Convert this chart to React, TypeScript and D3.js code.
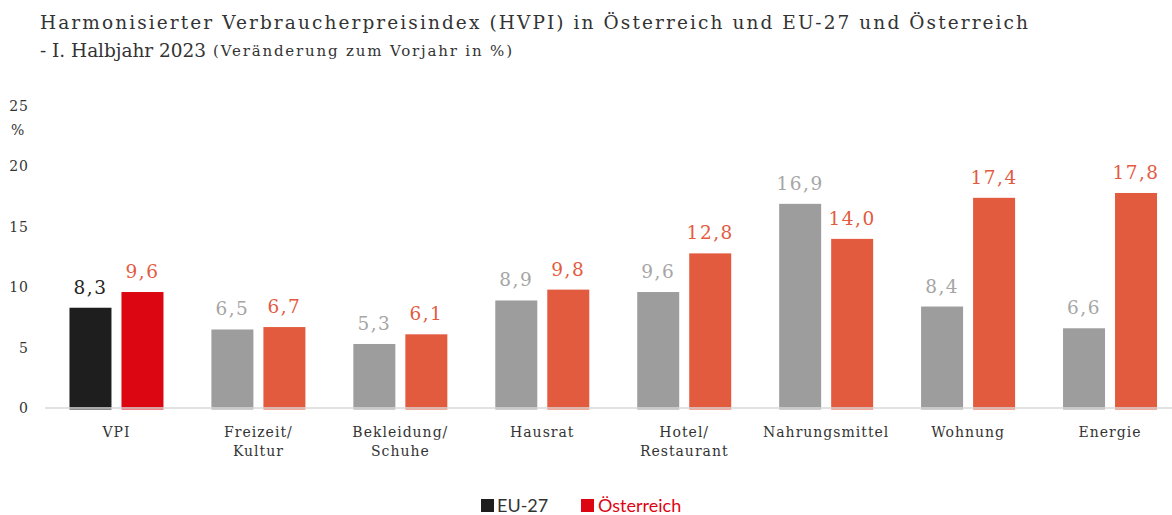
import React from "react";
import * as d3 from "d3";

const categories = [
  ["VPI"],
  ["Freizeit/", "Kultur"],
  ["Bekleidung/", "Schuhe"],
  ["Hausrat"],
  ["Hotel/", "Restaurant"],
  ["Nahrungsmittel"],
  ["Wohnung"],
  ["Energie"],
];
const series = ["EU-27", "Österreich"];
const euValues = [8.3, 6.5, 5.3, 8.9, 9.6, 16.9, 8.4, 6.6];
const atValues = [9.6, 6.7, 6.1, 9.8, 12.8, 14.0, 17.4, 17.8];
const yTicks = [0, 5, 10, 15, 20, 25];

const W = 1172;
const H = 515;
const SERIF = "'DejaVu Serif', serif";
const SANS = "Lato, 'Open Sans', sans-serif";

const fmt = (v: number) => v.toFixed(1).replace(".", ",");

export default function App() {
  const keys = categories.map((c) => c.join(" "));
  const x = d3.scaleBand<string>().domain(keys).range([45.5, 1181]).padding(0);
  const xi = d3
    .scaleBand<string>()
    .domain(series)
    .range([-47, 47])
    .paddingInner(10 / 52)
    .paddingOuter(0);
  const y = d3.scaleLinear().domain([0, 25]).range([408, 106]);

  const barColor = (s: number, i: number) =>
    i === 0 ? (s === 0 ? "#1e1e1e" : "#dc0612") : s === 0 ? "#9d9d9d" : "#e35b3f";
  const labelColor = (s: number, i: number) =>
    s === 0 ? (i === 0 ? "#222222" : "#a5a5a5") : "#e35b3f";

  return (
    <div style={{ position: "absolute", left: 0, top: 0 }}>
      <svg width={W} height={H} style={{ display: "block", background: "#fff" }}>
        <text x={40} y={29} fontFamily={SERIF} fontSize={18.5} fill="#333" textLength={988} lengthAdjust="spacing">
          Harmonisierter Verbraucherpreisindex (HVPI) in Österreich und EU-27 und Österreich
        </text>
        <text x={40} y={57} fontFamily={SERIF} fontSize={18.5} fill="#333" textLength={166} lengthAdjust="spacing">
          - I. Halbjahr 2023
        </text>
        <text x={213} y={56} fontFamily={SERIF} fontSize={15} fill="#333" textLength={299} lengthAdjust="spacing">
          (Veränderung zum Vorjahr in %)
        </text>

        {yTicks.map((t) => (
          <text
            key={t}
            x={29}
            y={y(t)}
            dy="0.35em"
            textAnchor="end"
            fontFamily={SERIF}
            fontSize={14}
            letterSpacing={1}
            fill="#333"
          >
            {t}
          </text>
        ))}
        <text x={11} y={135} fontFamily={SERIF} fontSize={14} fill="#333">
          %
        </text>

        {keys.map((k, i) =>
          [euValues[i], atValues[i]].map((v, s) => {
            const bx = (x(k) as number) + x.bandwidth() / 2 + (xi(series[s]) as number);
            return (
              <g key={k + s}>
                <rect x={bx} y={y(v)} width={xi.bandwidth()} height={y(0) - y(v) + 1.5} fill={barColor(s, i)} />
                <text
                  x={bx + xi.bandwidth() / 2}
                  y={y(v) - 14}
                  textAnchor="middle"
                  fontFamily={SERIF}
                  fontSize={18.5}
                  letterSpacing={1.5}
                  fill={labelColor(s, i)}
                >
                  {fmt(v)}
                </text>
              </g>
            );
          })
        )}

        <line x1={45} x2={1172} y1={y(0)} y2={y(0)} stroke="#d9d9d9" strokeWidth={1.5} />

        {categories.map((lines, i) => (
          <text
            key={keys[i]}
            x={(x(keys[i]) as number) + x.bandwidth() / 2}
            y={437}
            textAnchor="middle"
            fontFamily={SERIF}
            fontSize={14}
            letterSpacing={1}
            fill="#333"
          >
            {lines.map((l, j) => (
              <tspan key={j} x={(x(keys[i]) as number) + x.bandwidth() / 2} dy={j === 0 ? 0 : 19}>
                {l}
              </tspan>
            ))}
          </text>
        ))}

        <rect x={481} y={499} width={13} height={13} fill="#1e1e1e" />
        <text x={497} y={511.5} fontFamily={SANS} fontSize={18} fill="#333">
          EU-27
        </text>
        <rect x={581} y={499} width={13} height={13} fill="#dc0612" />
        <text x={598} y={511.5} fontFamily={SANS} fontSize={18} fill="#dc0612">
          Österreich
        </text>
      </svg>
    </div>
  );
}
